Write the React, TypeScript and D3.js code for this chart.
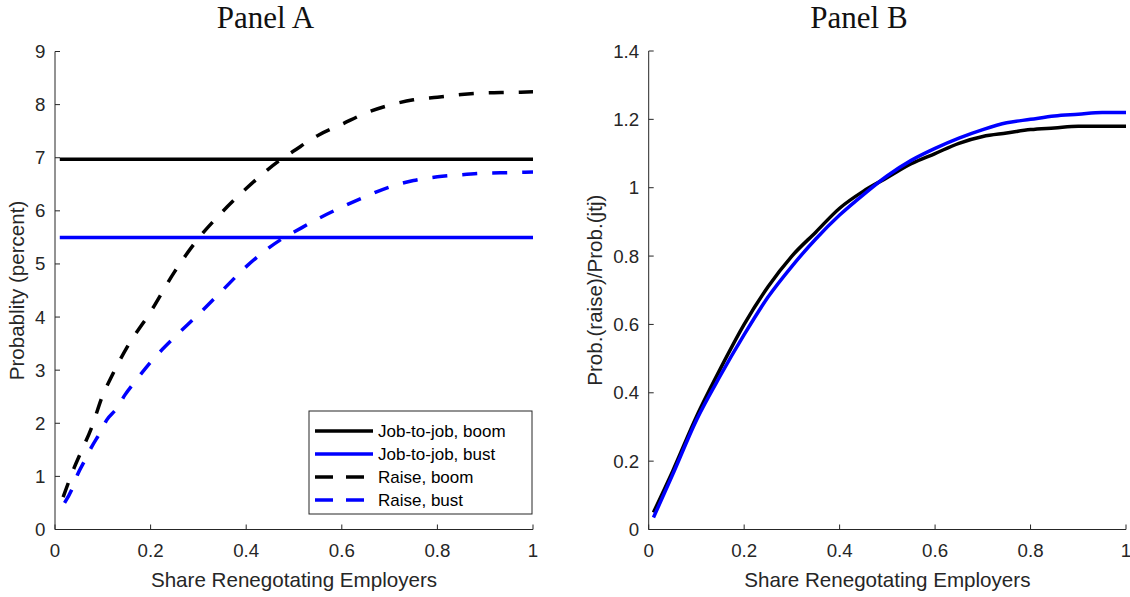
import React from "react";
import * as d3 from "d3";

// Panel A: probabilities (percent) against share of renegotiating employers
const shareA = [0.01, 1.0];
const jtjBoom = [6.97, 6.97];
const jtjBust = [5.5, 5.5];

const raiseBoomX = [0.017, 0.04, 0.054, 0.077, 0.1, 0.115, 0.15, 0.2, 0.25, 0.3, 0.35, 0.4, 0.47, 0.5, 0.55, 0.6, 0.65, 0.7, 0.75, 0.8, 0.85, 0.9, 0.95, 1.0];
const raiseBoomY = [0.61, 1.16, 1.45, 1.93, 2.53, 2.82, 3.42, 4.1, 4.85, 5.48, 5.98, 6.42, 6.95, 7.13, 7.42, 7.63, 7.84, 7.99, 8.09, 8.14, 8.19, 8.22, 8.23, 8.24];

const raiseBustX = [0.02, 0.035, 0.047, 0.063, 0.077, 0.094, 0.108, 0.13, 0.146, 0.167, 0.2, 0.25, 0.3, 0.35, 0.4, 0.48, 0.5, 0.55, 0.6, 0.65, 0.7, 0.75, 0.8, 0.85, 0.9, 0.95, 1.0];
const raiseBustY = [0.5, 0.75, 1.03, 1.31, 1.56, 1.82, 2.06, 2.29, 2.53, 2.78, 3.15, 3.62, 4.05, 4.5, 4.95, 5.5, 5.6, 5.85, 6.07, 6.27, 6.45, 6.57, 6.64, 6.68, 6.71, 6.72, 6.73];

// Panel B: ratio of raise probability to job-to-job probability
const shareB = [0.01, 0.05, 0.1, 0.15, 0.2, 0.25, 0.3, 0.35, 0.4, 0.45, 0.5, 0.55, 0.6, 0.65, 0.7, 0.75, 0.8, 0.85, 0.9, 0.95, 1.0];
const ratioBoom = [0.05, 0.17, 0.33, 0.47, 0.6, 0.71, 0.8, 0.87, 0.94, 0.99, 1.03, 1.07, 1.1, 1.13, 1.15, 1.16, 1.17, 1.175, 1.18, 1.18, 1.18];
const ratioBust = [0.035, 0.16, 0.32, 0.45, 0.57, 0.68, 0.77, 0.85, 0.92, 0.98, 1.035, 1.08, 1.115, 1.145, 1.17, 1.19, 1.2, 1.21, 1.215, 1.22, 1.22];

const ticksX = [0, 0.2, 0.4, 0.6, 0.8, 1];
const ticksA = [0, 1, 2, 3, 4, 5, 6, 7, 8, 9];
const ticksB = [0, 0.2, 0.4, 0.6, 0.8, 1, 1.2, 1.4];

const legendLabels = ["Job-to-job, boom", "Job-to-job, bust", "Raise, boom", "Raise, bust"];

const AXIS = "#262626";
const SANS = "Liberation Sans, Arial, Helvetica, sans-serif";
const SERIF = "Liberation Serif, Times New Roman, serif";
const LW = 3.5;
const DASH = "15,15";

type Pt = [number, number];
const zip = (xs: number[], ys: number[]): Pt[] => xs.map((x, i) => [x, ys[i]]);

function fmt(v: number) {
  return String(Math.round(v * 10) / 10);
}

function Axes({ x, y, xTicks, yTicks, xLabel, yLabel, yLabelX, title, titleX }: any) {
  const [x0, x1] = x.range();
  const [y0, y1] = y.range();
  return (
    <g>
      <text x={titleX} y={28} fontFamily={SERIF} fontSize={31} fill="#111" textAnchor="middle">{title}</text>
      <line x1={x0} x2={x1} y1={y0} y2={y0} stroke={AXIS} strokeWidth={1} />
      <line x1={x0} x2={x0} y1={y0} y2={y1} stroke={AXIS} strokeWidth={1} />
      {xTicks.map((t: number) => (
        <g key={"x" + t}>
          <line x1={x(t)} x2={x(t)} y1={y0} y2={y0 - 5} stroke={AXIS} strokeWidth={1} />
          <text x={x(t)} y={557} fontFamily={SANS} fontSize={18.7} fill={AXIS} textAnchor="middle">{fmt(t)}</text>
        </g>
      ))}
      {yTicks.map((t: number) => (
        <g key={"y" + t}>
          <line x1={x0} x2={x0 + 5} y1={y(t)} y2={y(t)} stroke={AXIS} strokeWidth={1} />
          <text x={x0 - 9.5} y={y(t)} dy="0.35em" fontFamily={SANS} fontSize={18.7} fill={AXIS} textAnchor="end">{fmt(t)}</text>
        </g>
      ))}
      <text x={(x0 + x1) / 2} y={587} fontFamily={SANS} fontSize={20.6} fill={AXIS} textAnchor="middle">{xLabel}</text>
      <text transform={`translate(${yLabelX},${(y0 + y1) / 2}) rotate(-90)`} fontFamily={SANS} fontSize={20.6} fill={AXIS} textAnchor="middle">{yLabel}</text>
    </g>
  );
}

export default function App() {
  const xA = d3.scaleLinear().domain([0, 1]).range([55, 533]);
  const yA = d3.scaleLinear().domain([0, 9]).range([529.5, 51.5]);
  const xB = d3.scaleLinear().domain([0, 1]).range([648.7, 1126]);
  const yB = d3.scaleLinear().domain([0, 1.4]).range([529.5, 51]);

  const lineA = d3.line<Pt>().x((d) => xA(d[0])).y((d) => yA(d[1])).curve(d3.curveMonotoneX);
  const lineB = d3.line<Pt>().x((d) => xB(d[0])).y((d) => yB(d[1])).curve(d3.curveMonotoneX);

  const legendRows = [
    { color: "#000", dash: false },
    { color: "#0000ff", dash: false },
    { color: "#000", dash: true },
    { color: "#0000ff", dash: true },
  ];
  const legY = [431, 454, 477, 500];

  return (
    <svg width={1130} height={597} style={{ display: "block", position: "absolute", left: 0, top: 0, background: "#fff" }}>
      <rect width={1130} height={597} fill="#fff" />
      <Axes x={xA} y={yA} xTicks={ticksX} yTicks={ticksA} xLabel="Share Renegotating Employers" yLabel="Probablity (percent)" yLabelX={24} title="Panel A" titleX={265.5} />
      <Axes x={xB} y={yB} xTicks={ticksX} yTicks={ticksB} xLabel="Share Renegotating Employers" yLabel="Prob.(raise)/Prob.(jtj)" yLabelX={602} title="Panel B" titleX={859} />

      {/* Panel A series */}
      <path d={lineA(zip(shareA, jtjBoom)) || ""} fill="none" stroke="#000" strokeWidth={LW} />
      <path d={lineA(zip(shareA, jtjBust)) || ""} fill="none" stroke="#0000ff" strokeWidth={LW} />
      <path d={lineA(zip(raiseBoomX, raiseBoomY)) || ""} fill="none" stroke="#000" strokeWidth={LW} strokeDasharray={DASH} />
      <path d={lineA(zip(raiseBustX, raiseBustY)) || ""} fill="none" stroke="#0000ff" strokeWidth={LW} strokeDasharray={DASH} />

      {/* Legend */}
      <rect x={309} y={411} width={223} height={103} fill="#fff" stroke={AXIS} strokeWidth={1} />
      {legendLabels.map((lab, i) => (
        <g key={lab}>
          <line x1={315} x2={373} y1={legY[i]} y2={legY[i]} stroke={legendRows[i].color} strokeWidth={LW} strokeDasharray={legendRows[i].dash ? "18,13" : undefined} />
          <text x={378} y={legY[i]} dy="0.35em" fontFamily={SANS} fontSize={17} fill="#000">{lab}</text>
        </g>
      ))}

      {/* Panel B series */}
      <path d={lineB(zip(shareB, ratioBoom)) || ""} fill="none" stroke="#000" strokeWidth={LW} />
      <path d={lineB(zip(shareB, ratioBust)) || ""} fill="none" stroke="#0000ff" strokeWidth={LW} />
    </svg>
  );
}
